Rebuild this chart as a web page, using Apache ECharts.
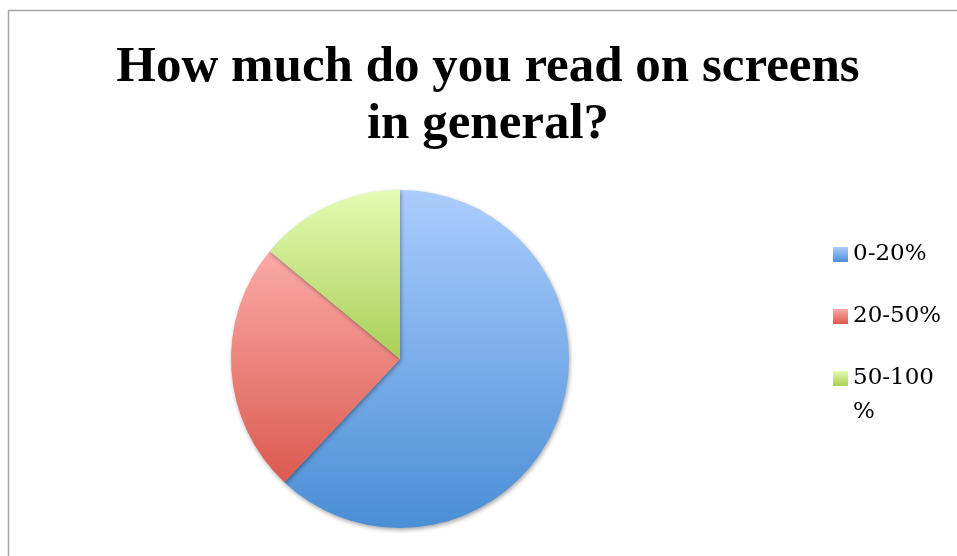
<!DOCTYPE html>
<html>
<head>
<meta charset="utf-8">
<script src="https://cdn.jsdelivr.net/npm/echarts@6/dist/echarts.min.js"></script>
<style>
html,body{margin:0;padding:0;background:#fff;}
#chart{width:957px;height:556px;}
</style>
</head>
<body>
<div id="chart"></div>
<script>
const titleText = 'How much do you read on screens\nin general?';
const categories = ['0-20%', '20-50%', '50-100%'];
const values = [62, 24, 14];
const topColors = ['#abcdfd', '#fbaaa7', '#e4fbb2'];
const bottomColors = ['#4a8ed6', '#db5a4f', '#a9cf58'];

const chart = echarts.init(document.getElementById('chart'), null, {renderer: 'canvas'});

const data = categories.map((name, i) => ({
  name: name,
  value: values[i],
  itemStyle: {
    color: new echarts.graphic.LinearGradient(0, 0, 0, 1, [
      {offset: 0, color: topColors[i]},
      {offset: 1, color: bottomColors[i]}
    ])
  }
}));

const legendFont = {
  fontFamily: 'DejaVu Serif',
  fontSize: 23,
  color: '#000000'
};

const option = {
  backgroundColor: '#ffffff',
  animation: false,
  graphic: [{
    type: 'rect',
    shape: {x: 8.5, y: 10.5, width: 1200, height: 1200},
    style: {fill: 'none', stroke: '#a6a6a6', lineWidth: 1.5},
    silent: true,
    z: 0
  }, {
    type: 'text',
    x: 853,
    y: 412,
    silent: true,
    style: {text: '%', fill: '#000000', verticalAlign: 'middle', align: 'left',
      font: '23px "DejaVu Serif"'}
  }],
  title: {
    text: titleText,
    left: 488,
    textAlign: 'center',
    top: 39,
    padding: 0,
    textStyle: {
      fontFamily: 'Liberation Serif',
      fontWeight: 'bold',
      fontSize: 51,
      lineHeight: 57,
      color: '#000000'
    }
  },
  legend: {
    orient: 'vertical',
    left: 833,
    top: 239.5,
    padding: 0,
    itemWidth: 15,
    itemHeight: 15,
    itemGap: 32,
    icon: 'rect',
    formatter: function (name) { return name === '50-100%' ? '50-100' : name; },
    textStyle: Object.assign({lineHeight: 30}, legendFont),
    data: categories
  },
  series: [{
    type: 'pie',
    center: [400, 359],
    radius: 169,
    startAngle: 90,
    clockwise: true,
    label: {show: false},
    labelLine: {show: false},
    itemStyle: {
      borderWidth: 0,
      shadowBlur: 4,
      shadowOffsetX: 1,
      shadowOffsetY: 2,
      shadowColor: 'rgba(0,0,0,0.35)'
    },
    emphasis: {disabled: true},
    data: data
  }]
};
chart.setOption(option);
</script>
</body>
</html>
